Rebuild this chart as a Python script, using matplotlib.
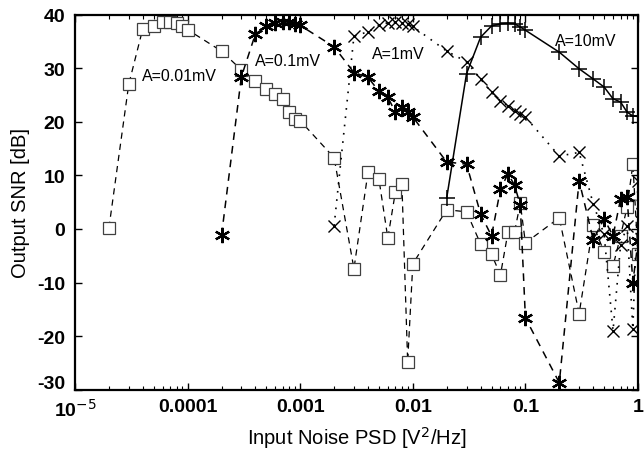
import numpy as np
import matplotlib
matplotlib.use('Agg')
import matplotlib.pyplot as plt
from matplotlib.ticker import FixedLocator, FixedFormatter, LogLocator, NullFormatter
from matplotlib.transforms import ScaledTranslation

plt.rcParams['font.family'] = ['Liberation Sans', 'DejaVu Sans']
plt.rcParams['axes.unicode_minus'] = False

# input noise PSD grid points [V^2/Hz] and output SNR [dB] for each amplitude
psd_001 = [2e-5, 3e-5, 4e-5, 5e-5, 6e-5, 7e-5, 8e-5, 9e-5,
           1e-4, 2e-4, 3e-4, 4e-4, 5e-4, 6e-4, 7e-4, 8e-4, 9e-4,
           1e-3, 2e-3, 3e-3, 4e-3, 5e-3, 6e-3, 7e-3, 8e-3, 9e-3,
           0.01, 0.02, 0.03, 0.04, 0.05, 0.06, 0.07, 0.08, 0.09,
           0.1, 0.2, 0.3, 0.4, 0.5, 0.6, 0.7, 0.8, 0.9, 1.0]
snr_001 = [0.2, 27, 37.4, 37.8, 38.6, 38.7, 38.4, 37.8,
           37.2, 33.2, 29.7, 27.6, 26.1, 25.2, 24.3, 21.8, 20.5,
           20.2, 13.3, -7.4, 10.6, 9.3, -1.7, 6.9, 8.4, -24.8,
           -6.5, 3.6, 3.2, -2.8, -4.7, -8.6, -0.6, -0.6, 4.8,
           -2.6, 2.1, -15.8, 0.8, -4.3, -6.9, -1.3, 4.1, 12.1, -4.7]

psd_01 = [2e-4, 3e-4, 4e-4, 5e-4, 6e-4, 7e-4, 8e-4, 9e-4,
          1e-3, 2e-3, 3e-3, 4e-3, 5e-3, 6e-3, 7e-3, 8e-3, 9e-3,
          0.01, 0.02, 0.03, 0.04, 0.05, 0.06, 0.07, 0.08, 0.09,
          0.1, 0.2, 0.3, 0.4, 0.5, 0.6, 0.7, 0.8, 0.9, 1.0]
snr_01 = [-1.2, 28.4, 36.4, 37.8, 38.4, 38.7, 38.6, 38.3,
          38.0, 34.0, 29.2, 28.3, 25.7, 24.6, 21.8, 22.8, 21.8,
          20.9, 12.5, 12.1, 2.8, -1.3, 7.4, 10.3, 8.2, 4.5,
          -16.6, -28.7, 9.0, -2.0, 1.9, -1.3, 5.6, 6.0, -10.0, -2.3]

psd_1 = [2e-3, 3e-3, 4e-3, 5e-3, 6e-3, 7e-3, 8e-3, 9e-3,
         0.01, 0.02, 0.03, 0.04, 0.05, 0.06, 0.07, 0.08, 0.09,
         0.1, 0.2, 0.3, 0.4, 0.5, 0.6, 0.7, 0.8, 0.9, 1.0]
snr_1 = [0.6, 36.0, 36.8, 38.0, 38.5, 38.6, 38.5, 38.2,
         37.8, 33.2, 31.2, 28.0, 25.5, 23.9, 23.0, 22.0, 21.4,
         20.9, 13.6, 14.3, 4.7, -1.0, -19.0, -3.0, 0.6, -18.7, 9.0]

psd_10 = [0.02, 0.03, 0.04, 0.05, 0.06, 0.07, 0.08, 0.09,
          0.1, 0.2, 0.3, 0.4, 0.5, 0.6, 0.7, 0.8, 0.9, 1.0]
snr_10 = [5.8, 29.0, 35.8, 37.9, 38.3, 38.4, 38.3, 37.7,
          37.1, 33.0, 29.9, 28.0, 26.5, 24.3, 23.7, 21.8, 21.1, 21.0]

labels = ['A=0.01mV', 'A=0.1mV', 'A=1mV', 'A=10mV']
label_pos = [(3.94e-5, 28.7), (3.98e-4, 31.4), (4.35e-3, 32.7), (0.183, 35.1)]

fig = plt.figure(figsize=(6.44, 4.52), dpi=100)
ax = fig.add_axes([0.1165, 0.1356, 0.8742, 0.8297])

ax.plot(psd_001, snr_001, color='k', ls=(0, (5, 4)), lw=0.9, marker='s', ms=9,
        mfc='white', mec='0.25', mew=0.9)
ax.plot(psd_01, snr_01, color='k', ls=(0, (5, 4)), lw=1.1, marker=(6, 2, 0), ms=11,
        mec='k', mew=1.6)
ax.plot(psd_1, snr_1, color='k', ls=(0, (1, 4)), lw=1.2, marker='x', ms=9,
        mec='k', mew=1.0)
ax.plot(psd_10, snr_10, color='k', ls='-', lw=1.1, marker='+', ms=12,
        mec='k', mew=1.1)

for lab, (xx, yy) in zip(labels, label_pos):
    ax.text(xx, yy, lab, fontsize=11.5, va='center', ha='left')

ax.set_xscale('log')
ax.set_xlim(1e-5, 1)
ax.set_ylim(-30, 40)
ax.xaxis.set_major_locator(FixedLocator([1e-5, 1e-4, 1e-3, 1e-2, 1e-1, 1]))
ax.xaxis.set_major_formatter(FixedFormatter(['10$^{-5}$', '0.0001', '0.001', '0.01', '0.1', '1']))
ax.xaxis.set_minor_locator(LogLocator(base=10, subs=np.arange(2, 10)))
ax.xaxis.set_minor_formatter(NullFormatter())
ax.set_yticks(np.arange(-30, 41, 10))

ax.tick_params(which='both', direction='in', top=True, right=True, labelsize=14)
ax.tick_params(which='major', length=5, width=1)
ax.tick_params(which='minor', length=3, width=0.8)
ax.tick_params(axis='x', pad=6)
ax.tick_params(axis='y', pad=7)
for lbl in ax.get_xticklabels() + ax.get_yticklabels():
    lbl.set_fontweight('bold')
for sp in ax.spines.values():
    sp.set_linewidth(1.6)

# lift the bottom y label a little, as in the original, so it clears 10^-5
low = ax.yaxis.get_major_ticks()[0].label1
low.set_transform(low.get_transform() + ScaledTranslation(0, 6 / 72, fig.dpi_scale_trans))

ax.set_xlabel('Input Noise PSD [V$^2$/Hz]', fontsize=14.5, labelpad=3)
ax.set_ylabel('Output SNR [dB]', fontsize=14.5, labelpad=5)

fig.savefig('out.png', dpi=100)
